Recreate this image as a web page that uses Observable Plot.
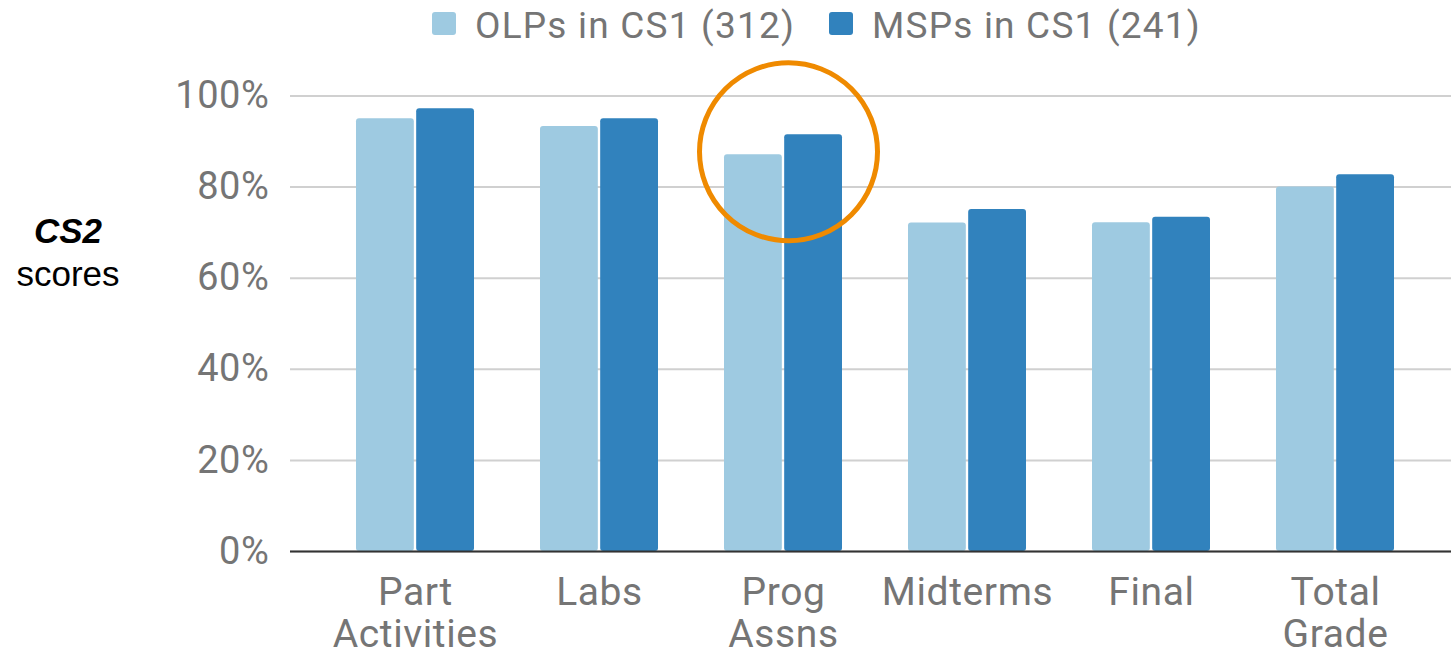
<!DOCTYPE html>
<html>
<head>
<meta charset="utf-8">
<script src="https://cdn.jsdelivr.net/npm/d3@7"></script>
<script src="https://cdn.jsdelivr.net/npm/@observablehq/plot@0.6"></script>
<style>
  html, body { margin: 0; padding: 0; background: #fff; }
  #wrap { position: relative; width: 1451px; height: 661px; overflow: hidden; }
  #chart { position: absolute; left: 0; top: 0; }
  #chart svg text { letter-spacing: 0.6px; }
  .sw { position: absolute; width: 24px; height: 23px; border-radius: 3px; }
  .lt { position: absolute; font-family: Roboto, sans-serif; font-size: 37px; color: #757575; line-height: 1; white-space: nowrap; letter-spacing: 1.2px; }
  #ytitle { position: absolute; left: 0; width: 136px; text-align: center; font-family: "Liberation Sans", Arial, sans-serif; font-size: 35px; color: #000; line-height: 43px; }
</style>
</head>
<body>
<div id="wrap">
  <div id="chart"></div>
  <div id="legend"></div>
  <div id="ytitle" style="top:209px"><b><i>CS2</i></b><br>scores</div>
</div>
<script>
// ---- data ----
const categories = ["Part\nActivities", "Labs", "Prog\nAssns", "Midterms", "Final", "Total\nGrade"];
const seriesNames = ["OLPs in CS1 (312)", "MSPs in CS1 (241)"];
const olpValues = [0.950, 0.933, 0.871, 0.721, 0.722, 0.800];
const mspValues = [0.972, 0.950, 0.915, 0.751, 0.734, 0.827];
const seriesColors = ["#9ecae1", "#3182bd"];
const yTicks = [0, 0.2, 0.4, 0.6, 0.8, 1.0];
const highlighted = ["Prog\nAssns"];

const rows = [];
categories.forEach((c, i) => {
  rows.push({category: c, series: seriesNames[0], value: olpValues[i]});
  rows.push({category: c, series: seriesNames[1], value: mspValues[i]});
});
const highlightRows = highlighted.map(c => {
  const i = categories.indexOf(c);
  return {category: c, value: (olpValues[i] + mspValues[i]) / 2};
});

// ---- layout ----
const W = 1451, H = 661;
const mL = 290, mR = 0, mT = 95.5, mB = 110;
const pInner = 0.361, pOuter = 0.333;
const step = (W - mL - mR) / (categories.length - pInner + 2 * pOuter);
const bw = step * (1 - pInner);
const half = bw / 2 + 1.35;
const gray = "#757575";

const chart = Plot.plot({
  width: W,
  height: H,
  marginLeft: mL,
  marginRight: mR,
  marginTop: mT,
  marginBottom: mB,
  style: {fontFamily: "Roboto, sans-serif", background: "transparent"},
  x: {domain: categories, paddingInner: pInner, paddingOuter: pOuter, align: 0.535, label: null},
  y: {domain: [0, 1], label: null},
  color: {domain: seriesNames, range: seriesColors},
  marks: [
    Plot.gridY(yTicks, {stroke: "#d0d0d0", strokeOpacity: 1, strokeWidth: 2}),
    Plot.axisY(yTicks, {tickSize: 0, tickPadding: 21, fontSize: 38, fill: gray, tickFormat: d3.format(".0%"), label: null}),
    Plot.axisX({tickSize: 0, tickPadding: 24, fontSize: 39, fill: gray, lineHeight: 1.07, label: null}),
    Plot.barY(rows.filter(d => d.series === seriesNames[0]), {x: "category", y: "value", fill: "series", insetRight: half, rx: 3}),
    Plot.barY(rows.filter(d => d.series === seriesNames[1]), {x: "category", y: "value", fill: "series", insetLeft: half, rx: 3}),
    Plot.ruleY([0], {stroke: "#333", strokeWidth: 2}),
    Plot.dot(highlightRows, {x: "category", y: "value", r: 89, dx: 5, dy: 7, stroke: "#ef8a00", strokeWidth: 5, fill: "none"})
  ]
});
document.getElementById("chart").appendChild(chart);

// ---- legend ----
const legend = document.getElementById("legend");
const legendPos = [{sx: 432, tx: 475}, {sx: 829, tx: 872}];
seriesNames.forEach((name, i) => {
  const sw = document.createElement("div");
  sw.className = "sw";
  sw.style.left = legendPos[i].sx + "px";
  sw.style.top = "12px";
  sw.style.background = seriesColors[i];
  legend.appendChild(sw);
  const t = document.createElement("div");
  t.className = "lt";
  t.style.left = legendPos[i].tx + "px";
  t.style.top = "7px";
  t.textContent = name;
  legend.appendChild(t);
});
</script>
</body>
</html>
